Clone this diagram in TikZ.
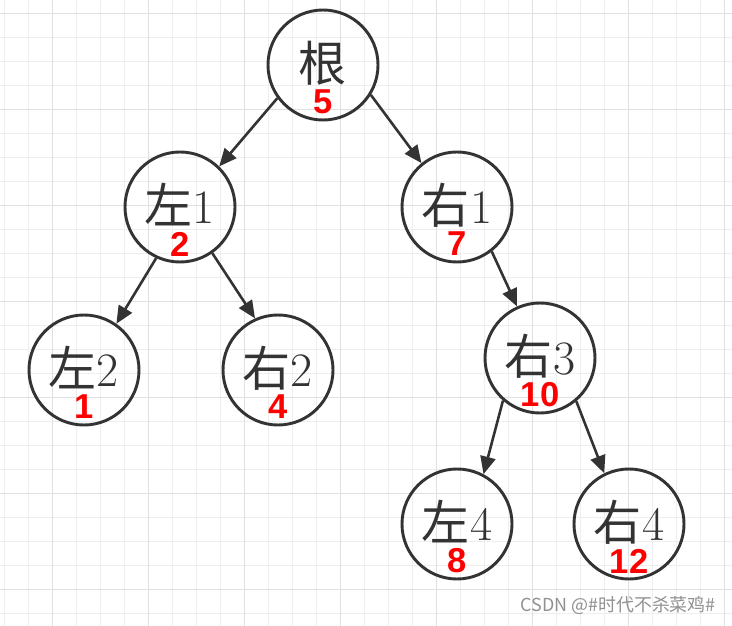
\documentclass[tikz,border=0pt]{standalone}
\usepackage{fontspec}
\newfontfamily\cjk{Noto Sans CJK SC}
\newfontfamily\keyfont{Liberation Sans}
\usetikzlibrary{arrows.meta, positioning}
\definecolor{mygridminor}{RGB}{238, 238, 238}
\definecolor{mygridmajor}{RGB}{224, 224, 224}
\definecolor{mydarkgray1}{RGB}{51, 51, 51}
\definecolor{myred1}{RGB}{255, 0, 0}
\definecolor{mymarkgray1}{RGB}{145, 145, 145}

\begin{document}
\begin{tikzpicture}[x=0.03cm, y=-0.03cm,
    treenode/.style={circle, draw=mydarkgray1, line width=2.5pt, minimum size=3.3cm, inner sep=0pt},
    nodelabel/.style={text=mydarkgray1, inner sep=0pt, font=\fontsize{41}{44}\selectfont},
    keylabel/.style={text=myred1, inner sep=0pt, font=\keyfont\bfseries\fontsize{29.5}{32}\selectfont},
    edge/.style={draw=mydarkgray1, line width=2.2pt, -{Triangle[length=15pt, width=13pt]}}]
\fill[white] (0,0) rectangle (732,626);
\useasboundingbox (0,0) rectangle (732,626);
% Grid
\foreach \x in {4,28,...,724} {
    \draw[mygridminor, line width=0.8pt] (\x,0) -- (\x,626);
}
\foreach \y in {13.3,37.3,...,626} {
    \draw[mygridminor, line width=0.8pt] (0,\y) -- (732,\y);
}
\foreach \x in {52,148,...,724} {
    \draw[mygridmajor, line width=0.8pt] (\x,0) -- (\x,626);
}
\foreach \y in {13.3,109.3,...,626} {
    \draw[mygridmajor, line width=0.8pt] (0,\y) -- (732,\y);
}
% Tree nodes
\foreach \name/\x/\y/\ch/\num/\key in {root/323/65/根//5, l1/180/207/左/1/2, r1/457/207/右/1/7,
    l2/84/370/左/2/1, r2/278/370/右/2/4, r3/540/358/右/3/10, l4/457/524/左/4/8, r4/629/524/右/4/12} {
    \node[treenode] (\name) at (\x,\y) {};
    \node[nodelabel] (\name-txt) at (\x,\y-2) {{\cjk\ch}\num};
    \node[keylabel] (\name-key) at (\x,\y+37) {\key};
}
% Edges
\draw[edge] (root.216) -- (l1.46);
\draw[edge] (root.328) -- (r1.129);
\draw[edge] (l1.245) -- (l2.55);
\draw[edge] (l1.305) -- (r2.114);
\draw[edge] (r1.308) -- (r3.114);
\draw[edge] (r3.229) -- (l4.62);
\draw[edge] (r3.310) -- (r4.116);
% Watermark
\node[text=mymarkgray1, anchor=east, inner sep=0pt, font=\cjk\fontsize{15.3}{17}\selectfont] (mark) at (716,605) {CSDN @\#时代不杀菜鸡\#};
\end{tikzpicture}
\end{document}
